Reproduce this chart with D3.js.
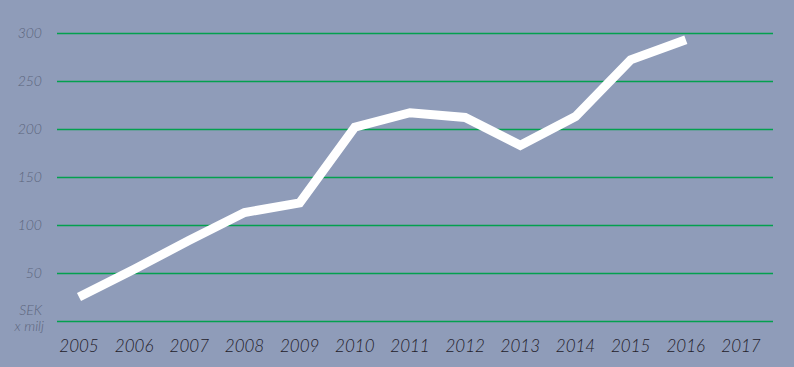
<!DOCTYPE html>
<html>
<head>
<meta charset="utf-8">
<script src="https://cdn.jsdelivr.net/npm/d3@7"></script>
<style>
  body { margin: 0; background: #8f9cb9; }
  svg { display: block; }
  .ylab { font-family: Lato, sans-serif; font-style: italic; font-weight: 300; fill: #5c657d; font-size: 14px; }
  .xlab { font-family: Lato, sans-serif; font-style: italic; font-weight: 300; fill: #1f2029; font-size: 17px; }
</style>
</head>
<body>
<div id="chart"></div>
<script>
// chart data
const years = ["2005","2006","2007","2008","2009","2010","2011","2012","2013","2014","2015","2016","2017"];
const values = [25, 54, 84, 113, 123, 202, 217, 212, 183, 213, 272, 293, null];
const yTicks = [50, 100, 150, 200, 250, 300];

let svg = d3.select("#chart").append("svg")
    .attr("width", 794)
    .attr("height", 367);

svg.append("rect").attr("width", 794).attr("height", 367).attr("fill", "#8f9cb9");

let x = d3.scalePoint().domain(years).range([79, 741]);
let y = d3.scaleLinear().domain([0, 300]).range([321, 33]);

// gridlines incl. baseline
svg.selectAll(".grid")
    .data([0].concat(yTicks))
    .enter().append("line")
    .attr("x1", 57).attr("x2", 773)
    .attr("y1", d => Math.round(y(d)) + 0.5)
    .attr("y2", d => Math.round(y(d)) + 0.5)
    .attr("stroke", "#03a04e")
    .attr("stroke-width", 1.4);

svg.selectAll(".ylab")
    .data(yTicks)
    .enter().append("text")
    .attr("class", "ylab")
    .attr("x", 42)
    .attr("y", d => y(d) + 5)
    .attr("text-anchor", "end")
    .text(d => d);

svg.append("text").attr("class", "ylab")
    .attr("x", 42).attr("y", 315).attr("text-anchor", "end")
    .text("SEK");
svg.append("text").attr("class", "ylab")
    .attr("x", 44).attr("y", 331).attr("text-anchor", "end")
    .text("x milj");

svg.selectAll(".xlab")
    .data(years)
    .enter().append("text")
    .attr("class", "xlab")
    .attr("x", d => x(d))
    .attr("y", 352)
    .attr("text-anchor", "middle")
    .text(d => d);

let line = d3.line()
    .defined(d => d.v != null)
    .x(d => x(d.year))
    .y(d => y(d.v));

svg.append("path")
    .datum(years.map((yr, i) => ({year: yr, v: values[i]})))
    .attr("d", line)
    .attr("fill", "none")
    .attr("stroke", "#ffffff")
    .attr("stroke-width", 9)
    .attr("stroke-linejoin", "miter");
</script>
</body>
</html>
